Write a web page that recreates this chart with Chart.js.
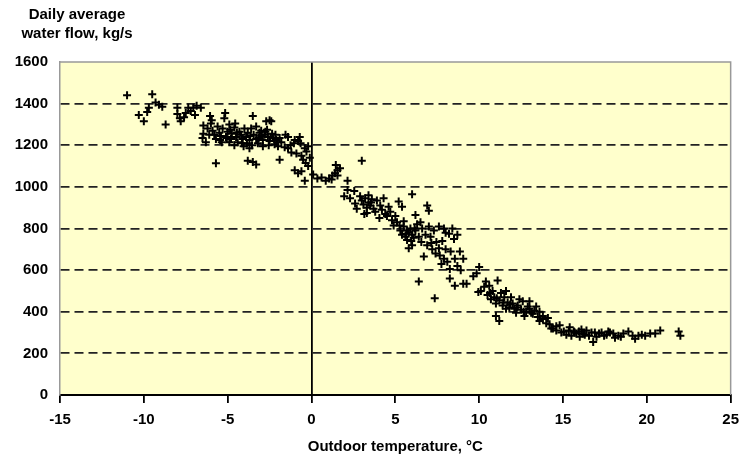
<!DOCTYPE html>
<html>
<head>
<meta charset="utf-8">
<script src="https://cdn.jsdelivr.net/npm/chart.js@4.4.1/dist/chart.umd.min.js"></script>
<style>
  html, body { margin: 0; padding: 0; background: #fff; }
</style>
</head>
<body>
<canvas id="flowChart" width="747" height="459"></canvas>
<script>
// Daily average water flow vs outdoor temperature

var titleLines = ['Daily average', 'water flow, kg/s'];
var xTitle = 'Outdoor temperature, \u00B0C';
var xTicks = [-15, -10, -5, 0, 5, 10, 15, 20, 25];
var yTicks = [0, 200, 400, 600, 800, 1000, 1200, 1400, 1600];

// outdoor temperature, C (one value per day)
var temperature = [
  -11.0, -9.5, -9.3, -9.1, -8.9, -9.7, -9.8, -10.3, -10.0, -8.7,
  -8.0, -8.0, -7.35, -7.05, -6.85, -7.8, -7.6, -7.5, -7.85, -6.95,
  -7.2, -6.6,
  -6.45, -6.45, -6.5, -6.3, -6.2, -6.05, -6.0, -5.9, -5.8, -5.7,
  -5.6, -5.5, -5.4, -5.3, -5.15, -5.1, -5.0, -4.9, -4.8, -4.75,
  -4.6, -4.55, -4.5, -4.4, -4.3, -4.2, -4.1, -4.0, -5.7, -5.2,
  -4.9, -4.6, -5.45, -6.1, -5.95, -5.35, -4.85, -4.45, -4.15, -5.05,
  -3.9, -3.8, -3.7, -3.6, -3.5, -3.45, -3.3, -3.3, -3.2, -3.1,
  -3.0, -2.9, -2.8, -2.7, -2.6, -2.5, -2.4, -2.35, -2.3, -2.2,
  -2.15, -2.1, -2.0, -3.7, -3.8, -3.5, -3.3, -2.9, -3.55, -4.05,
  -2.55, -3.0, -2.65, -2.5, -3.65, -3.15, -2.75, -2.45, -2.05, -3.85,
  -1.9, -1.8, -1.55, -1.9, -1.4, -1.25, -1.05, -0.8, -1.0, -0.65,
  -0.4, -1.0, -0.8, -0.6, -0.4, -0.5, -0.35, -0.2, -1.2, -0.9,
  -0.6, -0.3, -0.1, -1.6, -0.7, -0.2, 0.1, -1.4,
  0.35, 0.85, 1.05, 1.25, 1.4, 1.55, 1.45, 1.55, 2.15, 3.0,
  1.2, 1.7, 0.6,
  1.95, 2.3, 2.15, 2.55, 2.9, 3.0, 3.1, 3.2, 3.3, 3.4,
  3.5, 3.6, 3.7, 2.7, 3.15, 4.3, 4.1, 4.05, 4.5, 4.7,
  3.9, 3.8, 2.6, 3.4, 4.2, 4.6, 3.3, 3.55, 4.4,
  6.0, 5.2, 5.4, 4.9, 5.5, 5.7, 5.3, 5.4, 5.5, 5.6,
  5.7, 5.8, 5.9, 6.0, 6.1, 6.2, 5.0, 4.8, 5.1, 6.9,
  7.0, 6.2, 6.4, 5.8, 6.0, 6.7, 6.9, 7.3, 7.6, 7.9,
  8.2, 8.5, 7.45, 7.6, 7.65, 7.9, 7.75, 6.4, 8.25, 8.25,
  8.55, 9.05, 7.35, 8.55, 8.85, 9.05, 6.6, 6.5, 6.8, 7.1,
  7.2, 7.4, 8.0, 8.1, 8.3, 8.7, 8.9, 7.0, 8.4, 8.7,
  6.3, 7.8, 8.0, 5.65, 5.95, 6.15, 5.25, 6.55, 7.15,
  9.25, 9.65, 9.85, 10.0, 9.95, 10.1, 10.4, 10.6, 11.1, 11.6,
  10.5, 10.7, 10.9, 11.0, 11.2, 11.4, 11.5, 11.7, 11.8, 12.0,
  12.1, 10.8, 11.3, 11.0, 11.2, 12.6, 13.0, 12.7, 13.4, 13.8,
  13.6, 14.4, 12.3, 12.5, 12.8, 13.0, 13.2, 13.3, 12.2, 11.9,
  12.4, 10.3, 13.6, 13.8, 14.0, 14.1, 12.9, 11.6, 10.65, 11.05,
  11.45, 11.85, 12.25, 12.65, 13.1, 13.5,
  14.3, 14.6, 14.8, 15.05, 15.35, 15.65, 15.95, 16.2, 16.55, 16.8,
  16.9, 17.15, 17.45, 17.7, 18.0, 18.3, 18.6, 18.9, 19.15, 19.3,
  19.5, 19.9, 20.2, 20.5, 20.8, 21.9, 22.0, 15.2, 15.5, 15.8,
  16.0, 16.4, 16.7, 17.0, 17.3, 17.6, 18.1, 14.9, 15.4, 16.1,
  14.6, 14.2, 15.7, 16.3, 17.8, 18.45, 19.7
];

// daily average water flow, kg/s
var waterFlow = [
  1440, 1445, 1405, 1395, 1385, 1380, 1360, 1345, 1315, 1300,
  1380, 1350, 1380, 1380, 1390, 1315, 1335, 1355, 1330, 1345,
  1365, 1380,
  1295, 1255, 1235, 1215, 1280, 1340, 1305, 1270, 1250, 1230,
  1290, 1260, 1245, 1280, 1355, 1240, 1265, 1300, 1230, 1255,
  1285, 1305, 1240, 1215, 1265, 1250, 1230, 1280, 1113, 1330,
  1215, 1200, 1225, 1250, 1320, 1215, 1275, 1260, 1210, 1235,
  1240, 1260, 1225, 1280, 1340, 1250, 1290, 1230, 1210, 1260,
  1245, 1225, 1250, 1315, 1240, 1220, 1315, 1255, 1235, 1205,
  1250, 1225, 1195, 1185, 1125, 1120, 1108, 1195, 1200, 1195,
  1200, 1270, 1275, 1320, 1245, 1235, 1265, 1240, 1215, 1210,
  1235, 1215, 1250, 1130, 1185, 1200, 1210, 1220, 1225, 1210,
  1185, 1080, 1065, 1075, 1030, 1130, 1115, 1100, 1165, 1160,
  1150, 1170, 1140, 1190, 1240, 1195, 1060, 1240,
  1040, 1030, 1040, 1055, 1065, 1080, 1105, 1055, 1030, 1125,
  1035, 1090, 1045,
  955, 945, 985, 980, 955, 935, 915, 945, 900, 925,
  910, 940, 895, 895, 870, 945, 910, 850, 860, 880,
  935, 880, 920, 960, 890, 905, 875, 925, 870,
  965, 930, 905, 815, 835, 790, 790, 770, 810, 760,
  745, 780, 800, 770, 755, 790, 860, 840, 830, 910,
  885, 865, 760, 705, 720, 665, 720, 790, 810, 800,
  775, 750, 735, 705, 670, 655, 630, 545, 605, 560,
  525, 535, 465, 655, 690, 655, 800, 830, 770, 760,
  700, 680, 700, 640, 690, 620, 600, 810, 800, 770,
  820, 740, 780, 775, 740, 800, 815, 735, 730,
  535, 570, 585, 615, 495, 500, 545, 525, 550, 500,
  480, 460, 470, 440, 455, 430, 470, 445, 420, 440,
  415, 500, 490, 380, 355, 450, 450, 380, 425, 380,
  355, 320, 430, 410, 400, 415, 390, 405, 395, 470,
  460, 520, 400, 365, 345, 370, 425, 415, 490, 465,
  445, 435, 420, 400, 395, 375,
  320, 310, 335, 305, 310, 305, 305, 295, 285, 255,
  300, 295, 285, 305, 295, 285, 295, 305, 285, 270,
  285, 285, 295, 295, 310, 305, 285, 290, 285, 295,
  280, 310, 300, 280, 300, 290, 275, 300, 325, 315,
  330, 340, 300, 290, 300, 280, 290
];

var points = temperature.map(function (t, i) {
  return { x: t, y: waterFlow[i] };
});

var textFont = '"Liberation Sans", Arial, sans-serif';

// yellow plot area, grey frame and the two-line axis caption
var plotFrame = {
  id: 'plotFrame',
  beforeDraw: function (chart) {
    var a = chart.chartArea, c = chart.ctx;
    c.save();
    c.fillStyle = '#FFFFCC';
    c.fillRect(a.left, a.top, a.right - a.left, a.bottom - a.top);
    c.restore();
  },
  afterDraw: function (chart) {
    var a = chart.chartArea, c = chart.ctx;
    c.save();
    c.strokeStyle = '#999';
    c.lineWidth = 1.5;
    c.beginPath();
    c.moveTo(a.left, a.top);
    c.lineTo(a.right, a.top);
    c.lineTo(a.right, a.bottom);
    c.stroke();
    c.fillStyle = '#000';
    c.font = 'bold 15px ' + textFont;
    c.textAlign = 'center';
    c.textBaseline = 'alphabetic';
    c.fillText(titleLines[0], 77, 19);
    c.fillText(titleLines[1], 77, 38);
    c.restore();
  }
};

var ctx = document.getElementById('flowChart');

var flowChart = new Chart(ctx, {
  type: 'scatter',
  data: {
    datasets: [{
      data: points,
      pointStyle: 'cross',
      pointRadius: 4,
      borderWidth: 2,
      borderColor: '#000',
      backgroundColor: '#000'
    }]
  },
  options: {
    responsive: false,
    animation: false,
    events: [],
    layout: { padding: { top: 62, right: 13, left: 0, bottom: 0 } },
    plugins: {
      legend: { display: false },
      tooltip: { enabled: false }
    },
    scales: {
      x: {
        type: 'linear',
        min: xTicks[0],
        max: xTicks[xTicks.length - 1],
        afterFit: function (s) { s.height = 64; },
        afterBuildTicks: function (s) {
          s.ticks = xTicks.map(function (v) { return { value: v }; });
        },
        ticks: {
          color: '#000',
          padding: 8,
          maxRotation: 0,
          font: { family: textFont, size: 15, weight: 'bold' },
          callback: function (v) { return String(v); }
        },
        grid: {
          color: function (c) { return c.tick && c.tick.value === 0 ? '#000' : 'rgba(0,0,0,0)'; },
          lineWidth: 1.8,
          tickColor: '#000',
          tickLength: 8,
          tickWidth: 1.8
        },
        border: { color: '#000', width: 2 },
        title: {
          display: true,
          text: xTitle,
          color: '#000',
          padding: { top: 0, bottom: 3 },
          font: { family: textFont, size: 15, weight: 'bold' }
        }
      },
      y: {
        type: 'linear',
        min: yTicks[0],
        max: yTicks[yTicks.length - 1],
        afterFit: function (s) { s.width = 60; },
        afterBuildTicks: function (s) {
          s.ticks = yTicks.map(function (v) { return { value: v }; });
        },
        ticks: {
          color: '#000',
          padding: 12,
          font: { family: textFont, size: 15, weight: 'bold' },
          callback: function (v) { return String(v); }
        },
        grid: {
          drawTicks: false,
          color: function (c) {
            var v = c.tick ? c.tick.value : null;
            return (v === 0 || v === 1600) ? 'rgba(0,0,0,0)' : '#222';
          },
          lineWidth: 1.8
        },
        border: { color: '#999', width: 1.5, dash: [9, 5] }
      }
    }
  },
  plugins: [plotFrame]
});
</script>
</body>
</html>
